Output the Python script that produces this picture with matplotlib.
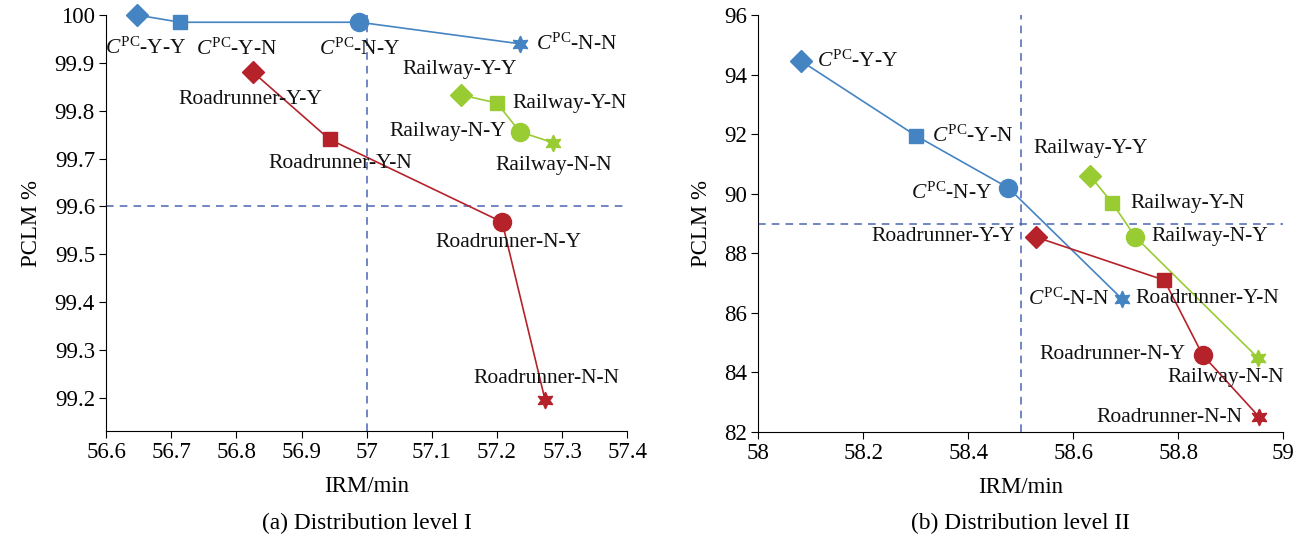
import numpy as np
import matplotlib
matplotlib.use('Agg')
import matplotlib.pyplot as plt

plt.rcParams['font.family'] = 'Liberation Serif'
plt.rcParams['mathtext.fontset'] = 'custom'
plt.rcParams['mathtext.rm'] = 'Liberation Serif'
plt.rcParams['mathtext.it'] = 'Liberation Serif:italic'

# data
groups = ['CPC', 'Roadrunner', 'Railway']
names = ['Y-Y', 'Y-N', 'N-Y', 'N-N']

x_a = {'CPC': [56.648, 56.714, 56.989, 57.235],
       'Roadrunner': [56.826, 56.943, 57.208, 57.274],
       'Railway': [57.145, 57.200, 57.235, 57.286]}
y_a = {'CPC': [100.0, 99.985, 99.985, 99.94],
       'Roadrunner': [99.88, 99.74, 99.567, 99.194],
       'Railway': [99.833, 99.816, 99.756, 99.733]}

x_b = {'CPC': [58.082, 58.301, 58.476, 58.693],
       'Roadrunner': [58.528, 58.773, 58.846, 58.954],
       'Railway': [58.632, 58.674, 58.718, 58.952]}
y_b = {'CPC': [94.45, 91.94, 90.2, 86.46],
       'Roadrunner': [88.55, 87.1, 84.59, 82.5],
       'Railway': [90.6, 89.69, 88.55, 84.48]}

ref_a = (57.0, 99.6)
ref_b = (58.5, 89.0)

colors = {'CPC': '#4584c3', 'Roadrunner': '#b5222a', 'Railway': '#99cc33'}
markers = ['D', 's', 'o', (6, 1, 0)]
msizes = [11, 10, 13, 12]

# label offsets in pixels (dx, dy, ha)
off_a = {'CPC': [(8, -33, 'center'), (56, -27, 'center'), (0, -27, 'center'), (16, 0, 'left')],
         'Roadrunner': [(-3, -27, 'center'), (11, -24, 'center'), (6, -20, 'center'), (1, 22, 'center')],
         'Railway': [(-1, 25, 'center'), (15, 0, 'left'), (-14, 0, 'right'), (1, -23, 'center')]}
off_b = {'CPC': [(16, 0, 'left'), (16, 0, 'left'), (-16, -5, 'right'), (-13, 0, 'right')],
         'Roadrunner': [(-20, 0, 'right'), (-29, -18, 'left'), (-17, 0, 'right'), (-17, 0, 'right')],
         'Railway': [(0, 27, 'center'), (18, 0, 'left'), (16, 0, 'left'), (-32, -19, 'center')]}


def label(g, n):
    if g == 'CPC':
        return r'$C^{\mathrm{PC}}$-' + n
    return g + '-' + n


fig = plt.figure(figsize=(13.03, 5.39), dpi=100)
ax1 = fig.add_axes([0.0814, 0.2004, 0.4, 0.7716])
ax2 = fig.add_axes([0.582, 0.1985, 0.403, 0.7735])


def draw(ax, xs, ys, offs, ref):
    ax.axvline(ref[0], color='#4a64b4', ls=(0, (5, 4)), lw=1.1, zorder=1)
    ax.axhline(ref[1], color='#4a64b4', ls=(0, (5, 4)), lw=1.1, zorder=1)
    for g in groups:
        ax.plot(xs[g], ys[g], '-', color=colors[g], lw=1.2, zorder=2, clip_on=False)
        for i, n in enumerate(names):
            ax.plot(xs[g][i], ys[g][i], marker=markers[i], ms=msizes[i],
                    color=colors[g], mec=colors[g], ls='none', zorder=3, clip_on=False)
            dx, dy, ha = offs[g][i]
            ax.annotate(label(g, n), (xs[g][i], ys[g][i]), xytext=(dx, dy),
                        textcoords='offset pixels', ha=ha, va='center',
                        fontsize=15.5, color='#111111', zorder=4, annotation_clip=False)
    for s in ['top', 'right']:
        ax.spines[s].set_visible(False)
    ax.tick_params(direction='out', length=5, labelsize=16.5, pad=3)
    ax.set_xlabel('IRM/min', fontsize=16.5, labelpad=9)
    ax.set_ylabel('PCLM %', fontsize=16.5, labelpad=9)


draw(ax1, x_a, y_a, off_a, ref_a)
ax1.set_xlim(56.6, 57.4)
ax1.set_ylim(99.13, 100.0)
ax1.set_xticks(np.arange(56.6, 57.41, 0.1))
ax1.set_xticklabels(['56.6', '56.7', '56.8', '56.9', '57', '57.1', '57.2', '57.3', '57.4'])
ax1.set_yticks(np.arange(99.2, 100.01, 0.1))
ax1.set_yticklabels(['99.2', '99.3', '99.4', '99.5', '99.6', '99.7', '99.8', '99.9', '100'])

draw(ax2, x_b, y_b, off_b, ref_b)
ax2.set_xlim(58, 59)
ax2.set_ylim(82, 96)
ax2.set_xticks(np.arange(58, 59.01, 0.2))
ax2.set_xticklabels(['58', '58.2', '58.4', '58.6', '58.8', '59'])
ax2.set_yticks(np.arange(82, 96.1, 2))

fig.text(0.2817, 0.018, '(a) Distribution level I', ha='center', fontsize=16.8)
fig.text(0.783, 0.018, '(b) Distribution level II', ha='center', fontsize=16.8)

fig.savefig('out.png', dpi=100)
